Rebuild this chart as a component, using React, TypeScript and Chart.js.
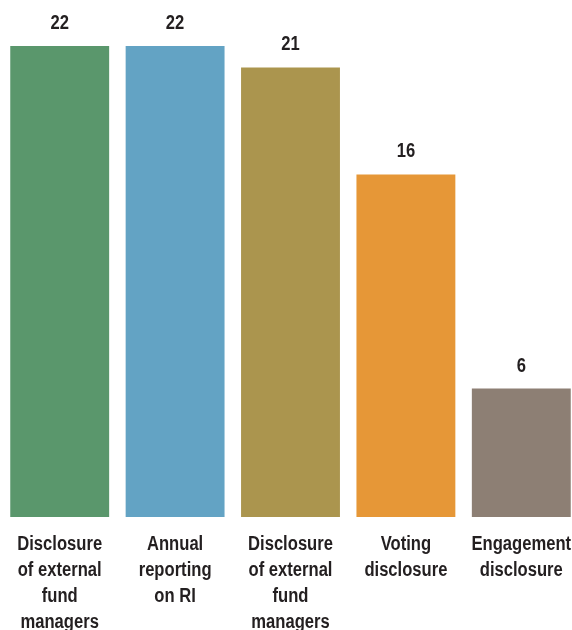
import React, { useEffect, useRef } from "react";
import { Chart, registerables } from "chart.js";

Chart.register(...registerables);

const categories: string[][] = [
  ["Disclosure", "of external", "fund", "managers"],
  ["Annual", "reporting", "on RI"],
  ["Disclosure", "of external", "fund", "managers"],
  ["Voting", "disclosure"],
  ["Engagement", "disclosure"],
];
const values: number[] = [22, 22, 21, 16, 6];
const barColors: string[] = ["#5a976c", "#63a3c4", "#ab954e", "#e69737", "#8d7f74"];

const FONT = "'Liberation Sans', Arial, sans-serif";
const TEXT = "#231f20";
const NARROW = 0.83;

function narrowText(ctx: CanvasRenderingContext2D, text: string, x: number, y: number) {
  ctx.save();
  ctx.translate(x, y);
  ctx.scale(NARROW, 1);
  ctx.fillText(text, 0, 0);
  ctx.restore();
}

const textLabels = {
  id: "textLabels",
  afterDatasetsDraw(chart: any) {
    const ctx = chart.ctx as CanvasRenderingContext2D;
    const meta = chart.getDatasetMeta(0);
    const xScale = chart.scales.x;
    const area = chart.chartArea;
    ctx.save();
    ctx.font = `bold 20px ${FONT}`;
    ctx.fillStyle = TEXT;
    ctx.textAlign = "center";
    ctx.textBaseline = "alphabetic";
    meta.data.forEach((el: any, i: number) => {
      narrowText(ctx, String(values[i]), el.x, el.y - 17);
    });
    categories.forEach((lines, i) => {
      const x = xScale.getPixelForTick(i);
      lines.forEach((line, j) => {
        narrowText(ctx, line, x, area.bottom + 33 + j * 26);
      });
    });
    ctx.restore();
  },
};

export default function App() {
  const ref = useRef<HTMLCanvasElement | null>(null);
  useEffect(() => {
    if (!ref.current) return;
    const chart = new Chart(ref.current, {
      type: "bar",
      data: {
        labels: categories.map((c) => c.join(" ")),
        datasets: [
          {
            data: values,
            backgroundColor: barColors,
            borderWidth: 0,
            barPercentage: 0.857,
            categoryPercentage: 1,
          },
        ],
      },
      options: {
        responsive: false,
        animation: false,
        layout: { padding: { top: 46, left: 2, right: 1, bottom: 0 } },
        plugins: { legend: { display: false }, tooltip: { enabled: false } },
        scales: {
          x: {
            grid: { display: false, drawTicks: false },
            border: { display: false },
            ticks: { display: false },
            afterFit(scale: any) {
              scale.height = 113;
              scale.paddingLeft = 0;
              scale.paddingRight = 0;
            },
          },
          y: {
            display: false,
            min: 0,
            max: 22,
          },
        },
      },
      plugins: [textLabels],
    });
    return () => chart.destroy();
  }, []);
  return (
    <div
      style={{
        position: "fixed",
        left: 0,
        top: 0,
        width: 572,
        height: 630,
        overflow: "hidden",
        background: "#ffffff",
      }}
    >
      <canvas ref={ref} width={580} height={630} style={{ display: "block" }} />
    </div>
  );
}
